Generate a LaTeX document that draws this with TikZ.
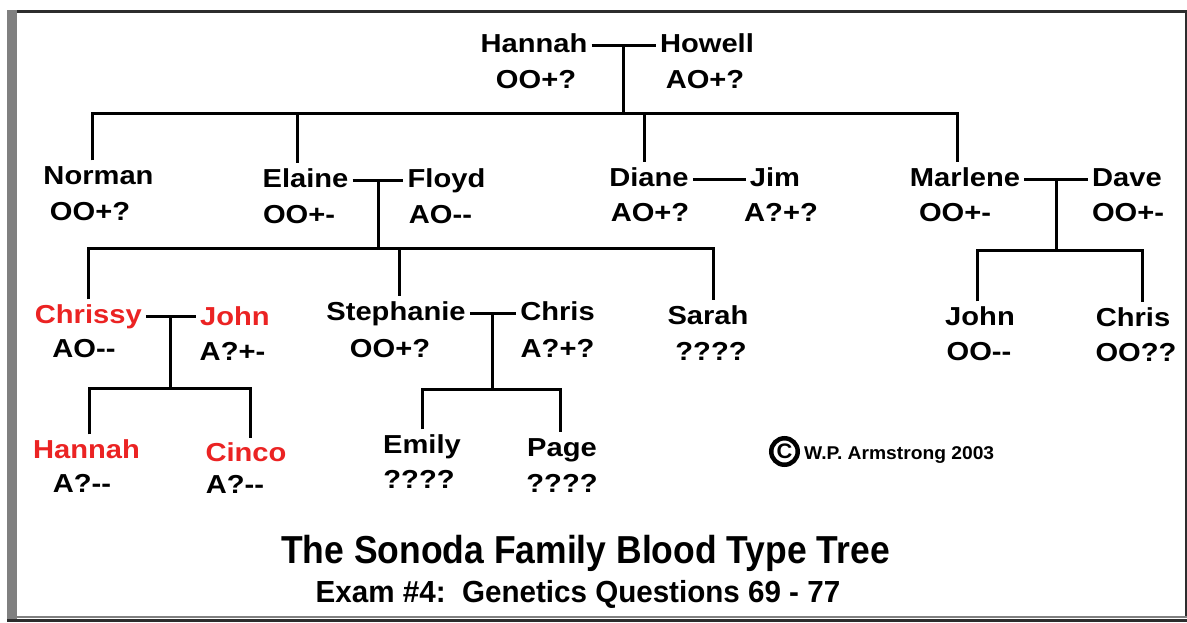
\documentclass[tikz,border=0pt]{standalone}
\usepackage{fontspec}
\newfontfamily\namefont{Liberation Sans}[FakeStretch=1.12]
\newfontfamily\titlefont{Liberation Sans}[FakeStretch=0.91]
\newfontfamily\subfont{Liberation Sans}[FakeStretch=0.97]
\newfontfamily\copyfont{Liberation Sans}[FakeStretch=1.04]
\usetikzlibrary{calc}
\definecolor{kinred}{RGB}{235,35,35}
\definecolor{framegray}{RGB}{128,128,128}
\definecolor{framedark}{RGB}{45,45,45}
\tikzset{
  person/.style={anchor=base, inner xsep=4pt, inner ysep=5pt, text height=18.5pt, text depth=5pt,
    font=\namefont\bfseries\fontsize{26}{28}\selectfont},
  redperson/.style={person, text=kinred},
  geno/.style={anchor=base, inner sep=0pt, font=\namefont\bfseries\fontsize{26}{28}\selectfont},
  link/.style={line width=3pt}
}

\begin{document}
\begin{tikzpicture}[x=1pt,y=-1pt]
\useasboundingbox (0,0) rectangle (1187,622);
\fill[white] (0,0) rectangle (1187,622);
\fill[framegray] (7,10) rectangle (17,622);
\draw[framedark, line width=2.5pt] (17,11.25) -- (1187,11.25);
\draw[framedark, line width=2pt] (1186,10) -- (1186,617);
\draw[framegray, line width=2pt] (17,617) -- (1187,617);
\draw[framedark, line width=3pt] (7,620.5) -- (1187,620.5);

\foreach \n/\x/\y/\t in {hannahT/534/52/Hannah, howell/707/52/Howell,
  norman/98.5/184/Norman, elaine/305.5/187/Elaine, floyd/446.5/187/Floyd,
  diane/649/186/Diane, jim/775/186/Jim, marlene/965/186/Marlene, dave/1127/186/Dave,
  stephanie/396/320/Stephanie, chris/557.5/320/Chris, sarah/708/324/Sarah,
  johnR/980/325/John, chrisR/1133/326/Chris,
  emily/422/453/Emily, page/562/456/Page}{
  \node[person] (\n) at (\x,\y) {\t};
}
\node[redperson] (chrissy) at (88.3,323) {Chrissy};
\node[redperson] (john) at (235,325) {John};
\node[redperson] (hannahR) at (86.5,458) {Hannah};
\node[redperson] (cinco) at (246,461.5) {Cinco};

\foreach \n/\x/\y/\g in {hannahT/536/88/OO+?, howell/705/88/AO+?,
  norman/90/220/OO+?, elaine/299/223/OO+-, floyd/440.5/223/AO--,
  diane/650/221/AO+?, jim/781/221/A?+?, marlene/955/221/OO+-, dave/1128/221/OO+-,
  chrissy/84/357/AO--, john/232.5/360/A?+-, stephanie/390/357/OO+?, chris/557.5/357/A?+?,
  sarah/711/360/????, johnR/979/360/OO--, chrisR/1136/361/OO??,
  hannahR/82/492/A?--, cinco/235/493/A?--, emily/419/488/????, page/562/492/????}{
  \node[geno] (\n-g) at (\x,\y) {\g};
}

% where each drop meets a name
\foreach \n/\dx in {norman/-6.5, elaine/-8.5, diane/-5, marlene/-8,
  chrissy/0, stephanie/3, sarah/5, johnR/-3, chrisR/9,
  hannahR/2.5, cinco/4, emily/0, page/-2}{
  \coordinate (\n-top) at ([xshift=\dx pt]\n.north);
}

\coordinate (lvl1) at (0,113.5);
\coordinate (lvl2) at (0,248);
\coordinate (lvl3) at (0,250);
\coordinate (lvl4) at (0,388);
\coordinate (lvl5) at (0,389);

\draw[link] (hannahT.east) -- (howell.west);
\coordinate (m1) at ($(hannahT.east)!.5!(howell.west)$);
\draw[link] (m1) -- (m1 |- lvl1);
\draw[link] (norman-top) |- (lvl1 -| marlene-top) -- (marlene-top);
\foreach \k in {elaine,diane}
  \draw[link] (lvl1 -| \k-top) -- (\k-top);

\draw[link] (elaine.east) -- (floyd.west);
\coordinate (m2) at ($(elaine.east)!.5!(floyd.west)$);
\draw[link] (m2) -- (m2 |- lvl2);
\draw[link] (chrissy-top) |- (lvl2 -| sarah-top) -- (sarah-top);
\draw[link] (lvl2 -| stephanie-top) -- (stephanie-top);

\draw[link] (diane.east) -- (jim.west);

\draw[link] (marlene.east) -- (dave.west);
\coordinate (m3) at ($(marlene.east)!.5!(dave.west)$);
\draw[link] (m3) -- (m3 |- lvl3);
\draw[link] (johnR-top) |- (lvl3 -| chrisR-top) -- (chrisR-top);

\draw[link] (chrissy.east) -- (chrissy.east -| john.west);
\coordinate (m4) at ($(chrissy.east)!.5!(chrissy.east -| john.west)$);
\draw[link] (m4) -- (m4 |- lvl4);
\draw[link] (hannahR-top) |- (lvl4 -| cinco-top) -- (cinco-top);

\draw[link] (stephanie.east) -- (chris.west);
\coordinate (m5) at ($(stephanie.east)!.5!(chris.west)$);
\draw[link] (m5) -- (m5 |- lvl5);
\draw[link] (emily-top) |- (lvl5 -| page-top) -- (page-top);

\node[draw, circle, line width=4.5pt, minimum size=26.5pt, inner sep=0pt,
  font=\copyfont\bfseries\fontsize{21}{21}\selectfont] (copymark) at (784.5,451.5) {C};
\node[anchor=base west, inner sep=0pt, font=\copyfont\bfseries\fontsize{18.5}{20}\selectfont]
  (copytext) at (804,459) {W.P. Armstrong 2003};

\node[anchor=base, inner sep=0pt, font=\titlefont\bfseries\fontsize{39}{42}\selectfont]
  (title) at (585.5,563) {The Sonoda Family Blood Type Tree};
\node[anchor=base, inner sep=0pt, font=\subfont\bfseries\fontsize{30.5}{32}\selectfont]
  (subtitle) at (578,602) {Exam \#4:\ \ Genetics Questions 69 - 77};
\end{tikzpicture}
\end{document}
